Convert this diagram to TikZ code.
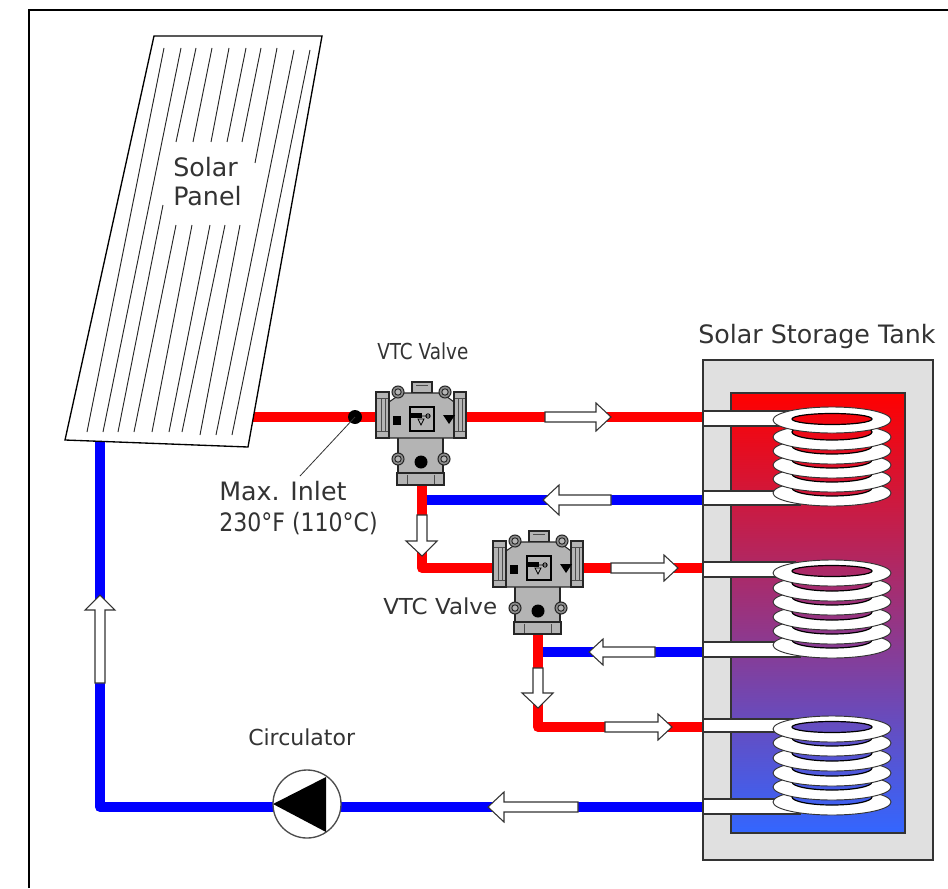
\documentclass[tikz,border=0pt]{standalone}
\usepackage{fontspec}
\usepackage{graphicx}
\setmainfont{DejaVu Sans}
\definecolor{pred}{HTML}{FF0000}
\definecolor{pblue}{HTML}{0000FF}
\definecolor{tanktop}{HTML}{FF0000}
\definecolor{tankbot}{HTML}{3366FF}
\definecolor{tankgray}{HTML}{E0E0E0}
\definecolor{valvegray}{HTML}{B4B4B4}
\definecolor{edgegray}{HTML}{333333}
\tikzset{
 redpipe/.style={draw=pred,line width=7.5pt,line join=round},
 bluepipe/.style={draw=pblue,line width=7.5pt,line join=round},
 flow/.style={draw=edgegray,fill=white,line width=0.8pt,line join=miter},
 label/.style={font=\fontsize{16.5}{20}\selectfont,text=black!80,inner sep=0pt,anchor=base west},
 biglabel/.style={label,font=\fontsize{19}{22}\selectfont},
 vpart/.style={draw=black!85,fill=valvegray,line width=0.8pt},
 ringstyle/.style={draw=edgegray,fill=white,line width=0.7pt},
 stub/.style={draw=edgegray,fill=white,line width=0.8pt},
 panelline/.style={draw=black!85,line width=0.7pt},
}
\newcommand{\tankshade}{\shade[top color=tanktop,bottom color=tankbot] (731,393) rectangle (905,833);}
\newcommand{\ring}[5]{%
 \path[ringstyle] (832,#1) ellipse [x radius=59,y radius=#2];
 \begin{scope}\clip (832,#3) ellipse [x radius=#5,y radius=#4];\tankshade\end{scope}
 \draw[black,line width=0.9pt] (832,#3) ellipse [x radius=#5,y radius=#4];
}
\newcommand{\coil}[7]{%
 \ring{#6}{13}{#6-5}{8}{40}
 \ring{#5}{13}{#5-5}{8}{40}
 \ring{#4}{13}{#4-5}{8}{40}
 \ring{#3}{13}{#3-5}{8}{40}
 \ring{#2}{13}{#2-5}{8}{40}
 \ring{#1}{13}{#7}{5.5}{40}
}
\newcommand{\harrow}[4]{\path[flow] (#1,#3-5) -- (#2,#3-5) -- (#2,#3-#4) -- (#2+#4+1,#3) -- (#2,#3+#4) -- (#2,#3+5) -- (#1,#3+5) -- cycle;}
\newcommand{\harrowL}[4]{\path[flow] (#1,#3-5) -- (#2,#3-5) -- (#2,#3-#4) -- (#2-#4-1,#3) -- (#2,#3+#4) -- (#2,#3+5) -- (#1,#3+5) -- cycle;}
\newcommand{\bolt}[2]{%
 \path[vpart,fill=black!45] (#1,#2) circle (6);
 \path[draw=black!85,fill=valvegray,line width=0.7pt] (#1,#2) circle (3.2);
}
\newcommand{\valve}[2]{%
 \begin{scope}[shift={(#1,#2)}]
  \path[vpart] (36,-10) rectangle (56,1);
  \path[vpart] (22,38) rectangle (67,84);
  \path[vpart] (21,81) rectangle (68,93);
  \path[vpart] (13,10) -- (26,1) -- (66,1) -- (78,10) -- (78,46) -- (13,46) -- cycle;
  \path[vpart] (0,0) rectangle (13,46);
  \path[vpart] (78,0) rectangle (90,46);
  \foreach \yy in {6,39}{
   \draw[black!70,line width=0.6pt] (1,\yy) -- (12,\yy) (79,\yy) -- (89,\yy);}
  \draw[black!70,line width=0.6pt] (5,6) -- (5,39) (9,6) -- (9,39) (82,6) -- (82,39) (86,6) -- (86,39);
  \draw[black!70,line width=0.6pt] (40,-7) -- (52,-7) (31,83) -- (31,92) (58,83) -- (58,92);
  \bolt{22}{0} \bolt{69}{0} \bolt{22}{67} \bolt{68}{67}
  \path[fill=black] (45,70) circle (6.5);
  \path[fill=black] (17,24) rectangle (25,33);
  \path[fill=black] (67,23) -- (79,23) -- (73,32) -- cycle;
  \draw[black,line width=0.8pt] (34,15) rectangle (58,39);
  \path[fill=black] (35,21) rectangle (46,26);
  \draw[black,line width=0.6pt] (46,24) -- (54,24) (42,27) -- (45,33) -- (48,27) -- cycle (52,24) circle (2.2);
 \end{scope}
}
\begin{document}
\begin{tikzpicture}[x=0.75pt,y=-0.75pt]
\useasboundingbox (0,0) rectangle (948,888);
\fill[white] (0,0) rectangle (948,888);
\draw[black,line width=2.2pt] (29,888) -- (29,10) -- (948,10);

% pipes
\draw[redpipe] (250,417) -- (703,417);
\draw[bluepipe] (703,500) -- (422,500);
\draw[redpipe] (422,480) -- (422,568) -- (500,568);
\draw[redpipe] (580,568) -- (703,568);
\draw[bluepipe] (703,652) -- (538,652);
\draw[redpipe] (538,630) -- (538,727) -- (703,727);
\draw[bluepipe] (703,807) -- (100,807) -- (100,440);

% panel
\coordinate (pa) at (154,36);
\coordinate (pb) at (322,36);
\coordinate (pc) at (248,447);
\coordinate (pd) at (65,440);
\path[draw=black,fill=white,line width=1pt] (pa) -- (pb) -- (pc) -- (pd) -- cycle;
\foreach \xa/\ya/\xb/\yb in {164/48/87/432,181/48/103/432,294/50/216/435,310/50/232/435}{
  \draw[panelline] (\xa,\ya) -- (\xb,\yb);}
\draw[panelline] (196,48) -- (176,142) (163,205) -- (118,432);
\draw[panelline] (212,48) -- (193,142) (176,225) -- (134,432);
\draw[panelline] (229,48) -- (211,142) (192,225) -- (152,432);
\draw[panelline] (246,48) -- (227,142) (210,225) -- (169,432);
\draw[panelline] (261,48) -- (242,142) (225,225) -- (182,432);
\draw[panelline] (277,48) -- (255,163) (240,225) -- (200,435);
\node[biglabel] (solar) at (173,176) {Solar};
\node[biglabel] (panel) at (173,205) {Panel};

% tank
\path[draw=edgegray,fill=tankgray,line width=0.9pt] (703,360) rectangle (933,860);
\tankshade
\draw[edgegray,line width=0.9pt] (731,393) rectangle (905,833);
\node[biglabel] (tanklabel) at (698,343) {Solar Storage Tank};

% coil 1
\path[stub] (703,411) rectangle (795,426);
\path[stub] (703,491) rectangle (800,505);
\coil{420}{437}{451}{465}{479}{493}{419}
% coil 2
\path[stub] (703,562) rectangle (795,577);
\path[stub] (703,642) rectangle (800,657);
\coil{573}{588}{602}{617}{631}{645}{571}
% coil 3
\path[stub] (703,719) rectangle (795,732);
\path[stub] (703,799) rectangle (800,814);
\coil{729}{743}{758}{773}{787}{802}{727}

% arrows
\harrow{545}{596}{417}{14}
\harrow{611}{664}{568}{13}
\harrow{605}{658}{727}{13}
\harrowL{655}{603}{652}{13}
\harrowL{578}{504}{807}{15}
\harrowL{611}{559}{500}{15}
\path[flow] (417,515) -- (427,515) -- (427,541) -- (437,541) -- (422,556) -- (406,541) -- (417,541) -- cycle;
\path[flow] (533,668) -- (543,668) -- (543,693) -- (553,693) -- (538,708) -- (522,693) -- (533,693) -- cycle;
\path[flow] (95,683) -- (105,683) -- (105,610) -- (115,610) -- (100,595) -- (85,610) -- (95,610) -- cycle;

% valves
\valve{376}{392}
\valve{493}{541}
\node[label] (vtca) at (377,359) {\scalebox{0.835}[1]{VTC Valve}};
\node[label] (vtcb) at (383,614) {\scalebox{1.045}[1]{VTC Valve}};

% inlet
\coordinate (dot) at (355,417);
\path[fill=black] (dot) circle (7);
\coordinate (lead) at (300,476);
\draw[black!80,line width=0.6pt] (dot) -- (lead);
\node[biglabel] (inlet) at (219,500) {Max. Inlet};
\node[biglabel] (temp) at (219,531) {\scalebox{0.87}[1]{230°F (110°C)}};

% pump
\coordinate (pump) at (307,804);
\path[draw=black!70,fill=white,line width=1pt] (pump) circle (34);
\path[fill=black] (273,804) -- (326,777) -- (326,832) -- cycle;
\node[label] (circ) at (248,745) {Circulator};
\end{tikzpicture}
\end{document}
